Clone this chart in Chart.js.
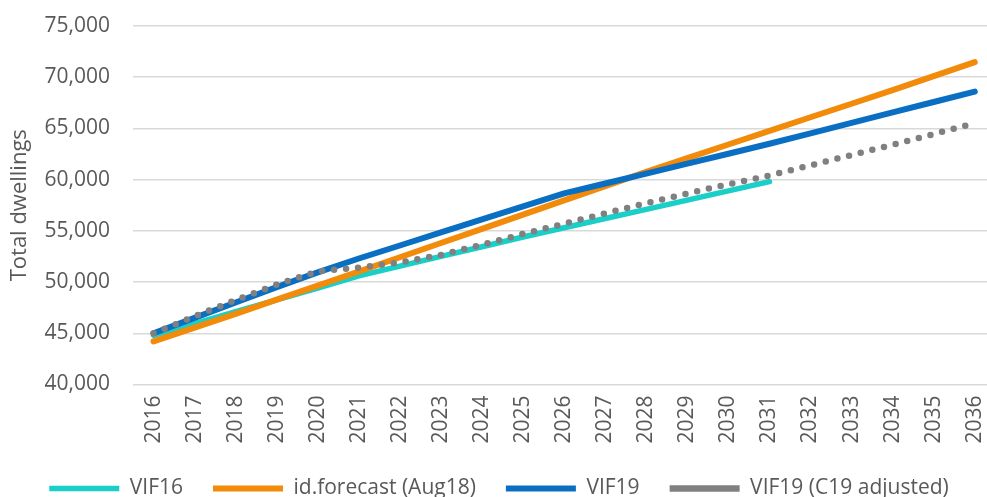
<!DOCTYPE html>
<html>
<head>
<meta charset="utf-8">
<script src="https://cdn.jsdelivr.net/npm/chart.js@4"></script>
<style>
  html, body { margin: 0; padding: 0; overflow: hidden; background: #ffffff; }
  #chart { display: block; }
</style>
</head>
<body>
<canvas id="chart" width="1000" height="497" style="width:1000px;height:497px"></canvas>
<script>
// Projection years on the category axis
const years = ['2016','2017','2018','2019','2020','2021','2022','2023','2024','2025','2026',
               '2027','2028','2029','2030','2031','2032','2033','2034','2035','2036'];

// Total dwellings by projection series
const vif16 = [44800, 45950, 47100, 48250, 49400, 50600, 51550, 52500, 53450, 54400, 55300,
               56200, 57100, 58000, 58900, 59800];
const idForecast = [44200, 45550, 46900, 48280, 49650, 51030, 52420, 53810, 55200, 56590, 57980,
                    59370, 60750, 62100, 63430, 64760, 66090, 67410, 68730, 70100, 71470];
const vif19 = [45000, 46500, 48000, 49500, 50950, 52300, 53570, 54840, 56110, 57380, 58650,
               59620, 60590, 61560, 62530, 63500, 64520, 65540, 66560, 67580, 68600];
const vif19C19 = [45000, 46650, 48250, 49750, 51050, 51400, 51900, 52650, 53650, 54700, 55700,
                  56700, 57700, 58650, 59550, 60400, 61400, 62400, 63400, 64450, 65500];

const yTicks = { min: 40000, max: 75000, step: 5000 };
const seriesNames = ['VIF16', 'id.forecast (Aug18)', 'VIF19', 'VIF19 (C19 adjusted)'];

const FONT = "'Open Sans', 'DejaVu Sans', sans-serif";
const TEXT = '#595959';
const CLEAR = 'rgba(0,0,0,0)';

function lineSet(label, data, color, width, order, dash) {
  return {
    label, data, order,
    borderColor: color,
    backgroundColor: color,
    borderWidth: width,
    borderCapStyle: 'round',
    borderJoinStyle: 'round',
    borderDash: dash || [],
    pointRadius: 0,
    pointHoverRadius: 0,
    tension: 0,
    fill: false
  };
}

new Chart(document.getElementById('chart'), {
  type: 'line',
  data: {
    labels: years,
    datasets: [
      lineSet(seriesNames[0], vif16, '#19CFC8', 5.5, 4),
      lineSet(seriesNames[1], idForecast, '#F28A0A', 6, 3),
      lineSet(seriesNames[2], vif19, '#0A6FC2', 6, 2),
      lineSet(seriesNames[3], vif19C19, '#808080', 6.5, 1, [0, 12])
    ]
  },
  options: {
    responsive: false,
    animation: false,
    devicePixelRatio: 1,
    layout: { padding: { top: 26, right: 2, left: 0, bottom: -12 } },
    plugins: {
      tooltip: { enabled: false },
      legend: {
        position: 'bottom',
        align: 'center',
        labels: {
          usePointStyle: true,
          pointStyle: 'line',
          pointStyleWidth: 70,
          boxHeight: 20,
          padding: 30,
          color: TEXT,
          font: { family: FONT, size: 21 },
          sort: (a, b) => a.datasetIndex - b.datasetIndex
        }
      }
    },
    scales: {
      x: {
        type: 'category',
        offset: true,
        afterFit: (scale) => { scale.height += 4.5; },
        grid: {
          display: true,
          drawOnChartArea: false,
          drawTicks: true,
          tickLength: 11,
          color: CLEAR,
          tickColor: CLEAR
        },
        border: { display: false },
        ticks: {
          color: TEXT,
          font: { family: FONT, size: 21 },
          minRotation: 90,
          maxRotation: 90,
          autoSkip: false,
          padding: 0
        }
      },
      y: {
        min: yTicks.min,
        max: yTicks.max,
        afterFit: (scale) => { scale.width = 133; },
        grid: {
          color: '#D9D9D9',
          lineWidth: 1.5,
          drawTicks: true,
          tickLength: 23,
          tickColor: CLEAR
        },
        border: { display: false },
        ticks: {
          stepSize: yTicks.step,
          color: TEXT,
          padding: 0,
          font: { family: FONT, size: 21 },
          callback: (v) => v.toLocaleString('en-US')
        },
        title: {
          display: true,
          text: 'Total dwellings',
          color: TEXT,
          font: { family: FONT, size: 22 },
          padding: { top: 7, bottom: 0 }
        }
      }
    }
  }
});
</script>
</body>
</html>
